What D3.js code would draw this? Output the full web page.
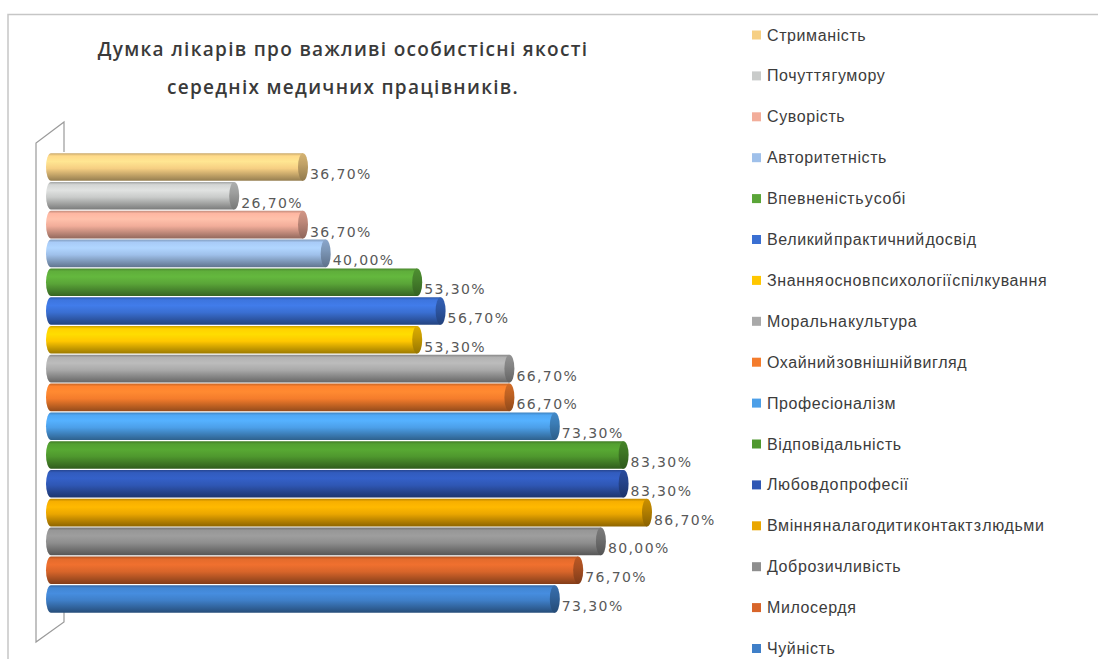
<!DOCTYPE html>
<html>
<head>
<meta charset="utf-8">
<script src="https://cdn.jsdelivr.net/npm/d3@7"></script>
<style>
  html, body { margin: 0; padding: 0; background: #fff; }
  svg { display: block; }
</style>
</head>
<body>
<svg id="chart" width="1098" height="659"></svg>
<script>
// Qualities, listed top to bottom as drawn
const categories = [
  "Стриманість",
  "Почуття гумору",
  "Суворість",
  "Авторитетність",
  "Впевненість у собі",
  "Великий практичний досвід",
  "Знання основ психології спілкування",
  "Моральна культура",
  "Охайний зовнішній вигляд",
  "Професіоналізм",
  "Відповідальність",
  "Любов до професії",
  "Вміння налагодити контакт з людьми",
  "Доброзичливість",
  "Милосердя",
  "Чуйність"
];

// Share of doctors naming each quality, %
const values = [36.7, 26.7, 36.7, 40.0, 53.3, 56.7, 53.3, 66.7, 66.7, 73.3, 83.3, 83.3, 86.7, 80.0, 76.7, 73.3];

// Fill colour per quality
const palette = [
  "#f6cf83", "#c9cbca", "#f2ad9a", "#9fc0ea",
  "#5aa538", "#3a6fd2", "#ffc700", "#a9a9a9",
  "#f47c2c", "#4c9fe8", "#4f982e", "#2f57b4",
  "#eaa600", "#8e8e8e", "#d8652a", "#3f7fc8"
];

const titleLines = [
  "Думка лікарів про важливі особистісні якості",
  "середніх медичних працівників."
];

const svg = d3.select("#chart");
const defs = svg.append("defs");

// outer chart border (top and left edges visible)
svg.append("path")
  .attr("d", "M8,659 L8,14.5 L1098,14.5")
  .attr("fill", "none")
  .attr("stroke", "#c6c6c6")
  .attr("stroke-width", 1.5);

// title
svg.append("g").selectAll("text")
  .data(titleLines)
  .join("text")
  .attr("x", 343)
  .attr("y", (d, i) => 56 + i * 38)
  .attr("text-anchor", "middle")
  .attr("font-family", "'Open Sans', sans-serif")
  .attr("font-size", 19)
  .attr("font-weight", 600)
  .attr("letter-spacing", 1.3)
  .attr("fill", "#3a3a3a")
  .text(d => d);

// scales
const x = d3.scaleLinear().domain([0, 100]).range([55.5, 743.5]);
const y = d3.scaleBand()
  .domain(categories)
  .range([153.5 - 0.9, 153.5 - 0.9 + 28.8 * categories.length])
  .paddingInner(0.04)
  .paddingOuter(0.02);

// 3D wall outline
svg.append("path")
  .attr("d", "M64,152 L64,122 L36,143 L36,642 L64,622 L64,610")
  .attr("fill", "none")
  .attr("stroke", "#9a9a9a")
  .attr("stroke-width", 1.2);

// cylinder gradients
palette.forEach((c, i) => {
  const base = d3.color(c);
  const g = defs.append("linearGradient")
    .attr("id", "cyl" + i)
    .attr("x1", 0).attr("y1", 0).attr("x2", 0).attr("y2", 1);
  [
    [0, base.darker(0.6)],
    [0.1, base.brighter(0.15)],
    [0.3, base.brighter(0.3)],
    [0.55, base],
    [0.8, base.darker(0.7)],
    [1, base.darker(1.4)]
  ].forEach(([o, col]) => g.append("stop").attr("offset", o).attr("stop-color", col.formatHex()));

  const gc = defs.append("linearGradient")
    .attr("id", "cap" + i)
    .attr("x1", 0).attr("y1", 0).attr("x2", 0).attr("y2", 1);
  [
    [0, base.darker(0.4)],
    [0.4, base.darker(0.7)],
    [1, base.darker(1.5)]
  ].forEach(([o, col]) => gc.append("stop").attr("offset", o).attr("stop-color", col.formatHex()));
});

const capRx = 5;
const startX = x(0) - 9.5;

const bars = svg.append("g").selectAll("g")
  .data(values.map((v, i) => ({ v, i, name: categories[i] })))
  .join("g");

// body: a rounded tube running from the wall to the value
bars.append("path")
  .attr("d", d => {
    const y0 = y(d.name), h = y.bandwidth(), x1 = x(d.v) - capRx;
    return `M${startX + capRx},${y0} L${x1},${y0} L${x1},${y0 + h} L${startX + capRx},${y0 + h}` +
      ` A${capRx},${h / 2} 0 0 1 ${startX + capRx},${y0} Z`;
  })
  .attr("fill", d => `url(#cyl${d.i})`);

// end cap
bars.append("ellipse")
  .attr("cx", d => x(d.v) - capRx)
  .attr("cy", d => y(d.name) + y.bandwidth() / 2)
  .attr("rx", capRx)
  .attr("ry", y.bandwidth() / 2)
  .attr("fill", d => `url(#cap${d.i})`);

// value labels
const fmt = v => v.toFixed(2).replace(".", ",") + "%";
bars.append("text")
  .attr("x", d => x(d.v) + 2)
  .attr("y", d => y(d.name) + y.bandwidth() / 2 + 12)
  .attr("font-family", "'DejaVu Sans', sans-serif")
  .attr("font-size", 14)
  .attr("letter-spacing", 1.4)
  .attr("fill", "#595959")
  .text(d => fmt(d.v));

// legend
const legend = svg.append("g").selectAll("g")
  .data(categories)
  .join("g")
  .attr("transform", (d, i) => `translate(0,${35 + i * 40.9})`);

legend.append("rect")
  .attr("x", 752)
  .attr("y", -4.5)
  .attr("width", 9)
  .attr("height", 9)
  .attr("fill", (d, i) => palette[i]);

legend.append("text")
  .attr("x", 767)
  .attr("y", 5.5)
  .attr("font-family", "'Liberation Sans', Arial, sans-serif")
  .attr("font-size", 16)
  .attr("letter-spacing", 0.6)
  .attr("word-spacing", -4.5)
  .attr("fill", "#3c3c3c")
  .text(d => d);
</script>
</body>
</html>
